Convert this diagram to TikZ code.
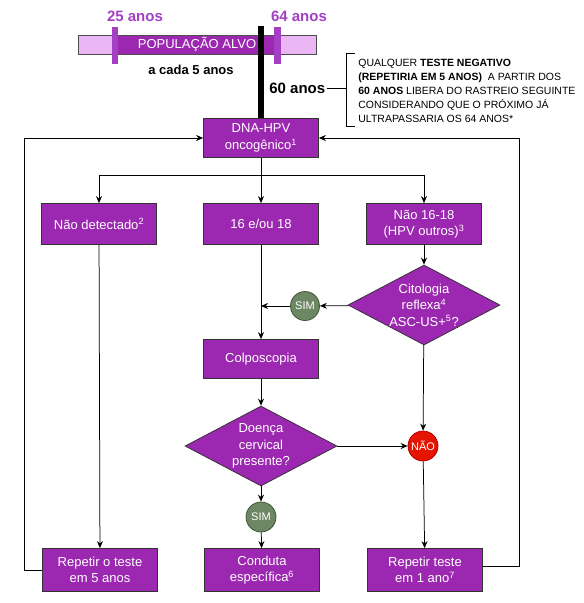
\documentclass[tikz,border=0pt]{standalone}
\usepackage{fontspec}
\setmainfont{Liberation Sans}
\usepackage{tikz}
\usetikzlibrary{arrows.meta,shapes.geometric,positioning}
\definecolor{roxo}{HTML}{9C27B0}
\definecolor{roxoclaro}{HTML}{EAB6F4}
\definecolor{roxotxt}{HTML}{A43FC4}
\definecolor{verde}{HTML}{6D8764}
\definecolor{verdeesc}{HTML}{3A5431}
\definecolor{vermelho}{HTML}{E51400}
\definecolor{vermelhoesc}{HTML}{B20000}

\begin{document}
\begin{tikzpicture}[x=1pt,y=-1pt,line width=0.75pt,>={Stealth[length=7pt,width=6pt]},
  caixa/.style={draw=black!80,fill=roxo,text=white,minimum width=115pt,minimum height=40pt,inner sep=2pt,align=center,font=\fontsize{13}{16.5}\selectfont},
  losango/.style={diamond,draw=black!80,fill=roxo,minimum width=152pt,minimum height=80pt,inner sep=0pt},
  rotulo/.style={text=white,align=center,inner sep=0pt,font=\fontsize{13}{16.5}\selectfont},
  simcirc/.style={circle,draw=verdeesc,fill=verde,text=white,minimum size=29pt,inner sep=0pt,font=\fontsize{11}{13}\selectfont},
  naocirc/.style={circle,draw=vermelhoesc,fill=vermelho,text=white,minimum size=30pt,inner sep=0pt,font=\fontsize{11}{13}\selectfont},
  idade/.style={text=roxotxt,font=\fontsize{15}{18}\selectfont\bfseries},
  nota/.style={align=left,inner sep=0pt,font=\fontsize{10.5}{14}\selectfont}]
  \useasboundingbox (0,0) rectangle (584,603);

  \fill[roxoclaro] (78,35) rectangle (316,54);
  \fill[roxo] (113,35) rectangle (280,54);
  \draw[black!70] (78,35) rectangle (316,54);
  \fill[roxotxt] (112,27) rectangle (118,64);
  \fill[roxotxt] (274,27) rectangle (281,64);
  \node[text=white,font=\fontsize{13}{16}\selectfont] (pop) at (197,44.5) {POPULAÇÃO ALVO};
  \node[idade] (ini) at (135,16) {25 anos};
  \node[idade] (fim) at (299,16) {64 anos};
  \node[font=\fontsize{13}{16}\selectfont\bfseries] (cada) at (191,70) {a cada 5 anos};

  \node[caixa,minimum height=39pt] (dna) at (261,138) {DNA-HPV\\oncogênico\textsuperscript{1}};
  \draw[line width=6.5pt] (dna.north) -- ++(0,-92);

  \node[anchor=west,font=\fontsize{15}{18}\selectfont\bfseries,inner sep=1pt] (sessenta) at (268,88) {60 anos};
  \coordinate (colchete) at (346,88);
  \draw (sessenta.east) -- (colchete);
  \draw (355,53) -- (346,53) -- (346,126) -- (355,126);
  \node[nota,anchor=west] (aviso) at (358,91) {QUALQUER \textbf{TESTE NEGATIVO}\\
    \textbf{(REPETIRIA EM 5 ANOS)}~ A PARTIR DOS\\
    \textbf{60 ANOS} LIBERA DO RASTREIO SEGUINTE\\
    CONSIDERANDO QUE O PRÓXIMO JÁ\\
    ULTRAPASSARIA OS 64 ANOS*};

  \node[caixa,minimum height=41pt] (naodet) at (99,224) {Não detectado\textsuperscript{2}};
  \node[caixa,minimum height=41pt] (hpv) at (261,224) {16 e/ou 18};
  \node[caixa,minimum height=41pt] (outros) at (424,224) {Não 16-18\\(HPV outros)\textsuperscript{3}};

  \node[losango] (cito) at (424,305) {};
  \node[rotulo] (citotxt) at (cito) {Citologia\\reflexa\textsuperscript{4}\\ASC-US+\textsuperscript{5}?};
  \node[simcirc] (simA) at (305,306) {SIM};

  \node[caixa,minimum height=39pt] (colpo) at (261,359) {Colposcopia};

  \node[losango] (doenca) at (261,446) {};
  \node[rotulo] (doencatxt) at (doenca) {Doença\\cervical\\presente?};
  \node[naocirc] (nao) at (423,446) {NÃO};
  \node[simcirc,minimum size=30pt] (simB) at (261,517) {SIM};

  \node[caixa,minimum height=43pt] (rep5) at (100,570) {Repetir o teste\\em 5 anos};
  \node[caixa,minimum height=43pt] (conduta) at (262,570) {Conduta\\específica\textsuperscript{6}};
  \node[caixa,minimum height=43pt] (rep1) at (425,570) {Repetir teste\\em 1 ano\textsuperscript{7}};

  \coordinate (ramo) at (261,175);
  \draw (dna) -- (ramo);
  \draw[->] (ramo) -| (naodet);
  \draw[->] (ramo) -- (hpv);
  \draw[->] (ramo) -| (outros);
  \draw[->] (naodet) -- (rep5);
  \draw[->] (hpv) -- (colpo);
  \draw[->] (outros) -- (cito);
  \draw[->] (cito) -- (simA);
  \draw[->] (simA) -- (simA -| hpv);
  \draw[->] (cito) -- (nao);
  \draw[->] (colpo) -- (doenca);
  \draw[->] (doenca) -- (nao);
  \draw[->] (doenca) -- (simB);
  \draw[->] (simB) -- (conduta);
  \draw[->] (nao) -- (rep1);
  \draw[->] (rep5.west) -- ++(-18,0) |- (dna.west);
  \draw[->] ([yshift=4pt]rep1.east) -- ++(36,0) |- (dna.east);
\end{tikzpicture}
\end{document}
